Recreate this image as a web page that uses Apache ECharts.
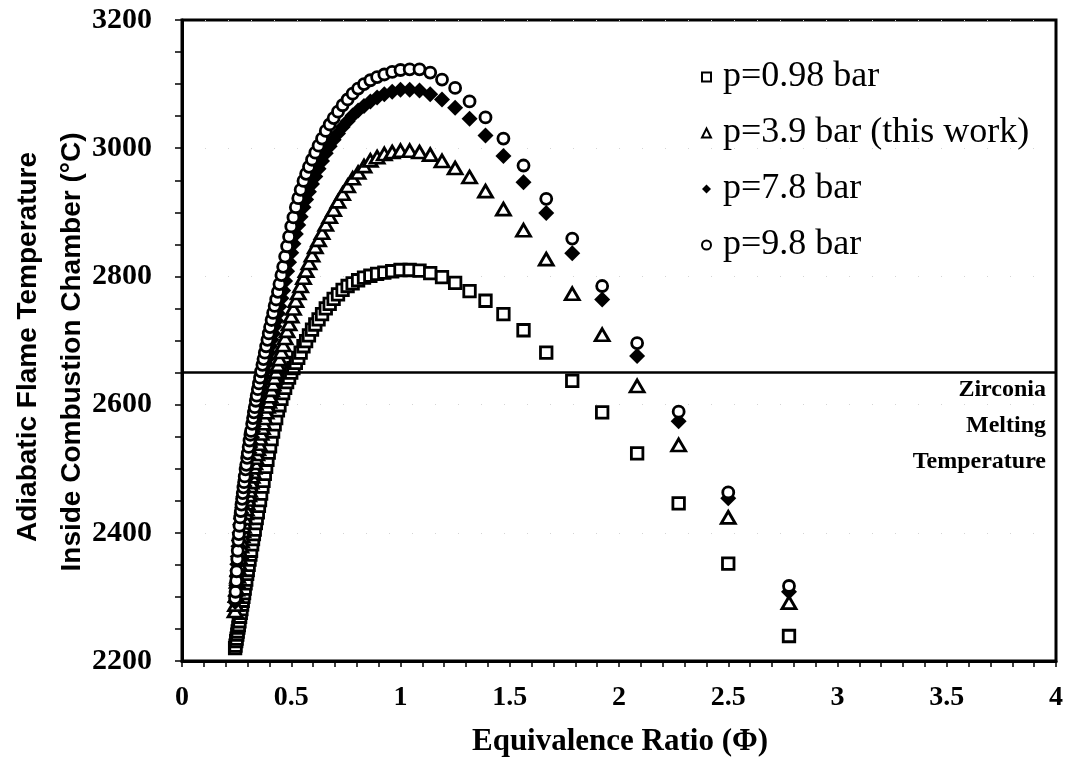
<!DOCTYPE html>
<html>
<head>
<meta charset="utf-8">
<script src="https://cdn.jsdelivr.net/npm/echarts@6/dist/echarts.min.js"></script>
<style>
  html, body { margin: 0; padding: 0; background: #fff; }
  #chart { width: 1068px; height: 768px; }
</style>
</head>
<body>
<div id="chart"></div>
<script>
// ---- Data ----
// Equivalence ratio Phi (shared by the four pressure series)
const phi = [
  0.243, 0.245, 0.248, 0.250, 0.253, 0.255, 0.258, 0.260, 0.263, 0.266,
  0.269, 0.272, 0.275, 0.278, 0.281, 0.284, 0.287, 0.291, 0.294, 0.298,
  0.301, 0.305, 0.309, 0.313, 0.316, 0.321, 0.325, 0.329, 0.333, 0.338,
  0.342, 0.347, 0.352, 0.357, 0.362, 0.368, 0.373, 0.379, 0.385, 0.391,
  0.397, 0.403, 0.410, 0.417, 0.424, 0.431, 0.439, 0.446, 0.455, 0.463,
  0.472, 0.481, 0.490, 0.500, 0.510, 0.521, 0.532, 0.543, 0.556, 0.568,
  0.581, 0.595, 0.610, 0.625, 0.641, 0.658, 0.676, 0.694, 0.714, 0.735,
  0.758, 0.781, 0.806, 0.833, 0.862, 0.893, 0.926, 0.962, 1.000, 1.042,
  1.087, 1.136, 1.190, 1.250, 1.316, 1.389, 1.471, 1.563, 1.667, 1.786,
  1.923, 2.083, 2.273, 2.500, 2.778
];
// Adiabatic flame temperature (deg C) for each chamber pressure
const tP098 = [
  2220, 2224, 2231, 2235, 2241, 2246, 2252, 2256, 2262, 2269,
  2275, 2281, 2288, 2294, 2300, 2306, 2313, 2321, 2327, 2336,
  2342, 2350, 2358, 2366, 2372, 2382, 2390, 2398, 2405, 2415,
  2423, 2432, 2442, 2451, 2461, 2472, 2481, 2492, 2503, 2514,
  2525, 2535, 2546, 2558, 2569, 2579, 2591, 2599, 2609, 2618,
  2626, 2635, 2642, 2650, 2657, 2665, 2673, 2681, 2691, 2699,
  2708, 2717, 2725, 2733, 2741, 2750, 2757, 2765, 2772, 2779,
  2785, 2789, 2794, 2798, 2801, 2804, 2806, 2808, 2810, 2810,
  2809, 2805, 2799, 2790, 2777, 2762, 2741, 2716, 2681, 2637,
  2588, 2524, 2446, 2352, 2239
];
const tP39 = [
  2278, 2288, 2302, 2312, 2324, 2332, 2344, 2352, 2361, 2370,
  2379, 2387, 2395, 2403, 2410, 2416, 2423, 2431, 2437, 2446,
  2452, 2459, 2466, 2473, 2479, 2488, 2495, 2502, 2509, 2517,
  2523, 2531, 2539, 2547, 2555, 2564, 2571, 2579, 2588, 2597,
  2605, 2613, 2623, 2632, 2642, 2651, 2662, 2671, 2682, 2693,
  2704, 2715, 2726, 2738, 2750, 2762, 2774, 2785, 2798, 2809,
  2821, 2833, 2846, 2857, 2868, 2881, 2893, 2904, 2917, 2929,
  2941, 2953, 2962, 2972, 2981, 2986, 2991, 2994, 2996, 2996,
  2994, 2990, 2980, 2969, 2955, 2933, 2905, 2872, 2827, 2773,
  2709, 2629, 2537, 2424, 2291
];
const tP78 = [
  2292, 2301, 2318, 2332, 2351, 2363, 2379, 2388, 2400, 2413,
  2422, 2431, 2440, 2448, 2457, 2464, 2473, 2483, 2489, 2500,
  2506, 2516, 2525, 2534, 2539, 2549, 2558, 2566, 2574, 2583,
  2591, 2600, 2609, 2617, 2627, 2636, 2644, 2653, 2663, 2672,
  2681, 2691, 2701, 2711, 2722, 2731, 2742, 2753, 2766, 2778,
  2793, 2808, 2822, 2837, 2851, 2866, 2880, 2893, 2908, 2920,
  2932, 2944, 2956, 2968, 2980, 2992, 3003, 3013, 3023, 3033,
  3042, 3051, 3059, 3066, 3073, 3079, 3084, 3088, 3091, 3091,
  3090, 3084, 3076, 3063, 3046, 3020, 2988, 2947, 2899, 2836,
  2764, 2676, 2574, 2454, 2308
];
const tP98 = [
  2298, 2308, 2325, 2340, 2359, 2372, 2388, 2398, 2411, 2424,
  2434, 2444, 2453, 2462, 2471, 2479, 2488, 2499, 2506, 2517,
  2524, 2534, 2544, 2553, 2559, 2570, 2579, 2588, 2596, 2606,
  2614, 2624, 2633, 2642, 2652, 2662, 2671, 2681, 2691, 2701,
  2711, 2721, 2732, 2743, 2754, 2764, 2776, 2788, 2802, 2815,
  2831, 2847, 2862, 2878, 2892, 2908, 2922, 2935, 2949, 2960,
  2971, 2982, 2993, 3004, 3015, 3027, 3037, 3047, 3057, 3067,
  3076, 3085, 3093, 3100, 3106, 3111, 3115, 3119, 3122, 3123,
  3123, 3118, 3107, 3094, 3073, 3048, 3015, 2973, 2921, 2859,
  2785, 2696, 2589, 2463, 2317
];
const seriesNames = ['p=0.98 bar', 'p=3.9 bar (this work)', 'p=7.8 bar', 'p=9.8 bar'];
const meltTemp = 2650;
const meltLabel = 'Zirconia\nMelting\nTemperature';
const xTitle = 'Equivalence Ratio (\u03A6)';
const yTitle1 = 'Adiabatic Flame Temperature';
const yTitle2 = 'Inside Combustion Chamber (\u00B0C)';
const xRange = [0, 4, 0.5];
const yRange = [2200, 3200, 200];

// ---- Chart ----
const chart = echarts.init(document.getElementById('chart'), null, { renderer: 'canvas' });
const pair = arr => phi.map((x, i) => [x, arr[i]]);
const serif = 'Liberation Serif, Times New Roman, serif';
const sans = 'Liberation Sans, Arial, sans-serif';
const hollow = { color: '#fff', borderColor: '#000', borderWidth: 2.8, opacity: 1 };

chart.setOption({
  animation: false,
  backgroundColor: '#fff',
  grid: { left: 182, right: 12, top: 20, bottom: 107, show: true, borderColor: '#000', borderWidth: 3, backgroundColor: 'transparent' },
  xAxis: {
    type: 'value', min: xRange[0], max: xRange[1], interval: xRange[2],
    axisLine: { show: true, onZero: false, lineStyle: { color: '#000', width: 3 } },
    axisTick: { show: true, length: 6, lineStyle: { color: '#000', width: 1.5 } },
    minorTick: { show: true, splitNumber: 5, length: 6, lineStyle: { color: '#000', width: 1.5 } },
    axisLabel: { fontFamily: serif, fontWeight: 'bold', fontSize: 28, color: '#000', margin: 23 },
    splitLine: { show: false }
  },
  yAxis: {
    type: 'value', min: yRange[0], max: yRange[1], interval: yRange[2],
    axisLine: { show: true, onZero: false, lineStyle: { color: '#000', width: 3 } },
    axisTick: { show: true, length: 7, lineStyle: { color: '#000', width: 1.5 } },
    minorTick: { show: true, splitNumber: 4, length: 7, lineStyle: { color: '#000', width: 1.5 } },
    axisLabel: { fontFamily: serif, fontWeight: 'bold', fontSize: 30, color: '#000', margin: 30, formatter: v => String(v) },
    splitLine: { show: true, lineStyle: { color: '#d4d4d4', width: 1, type: [1, 22] } }
  },
  legend: {
    orient: 'vertical', left: 696, top: 54,
    itemWidth: 9, itemHeight: 9, itemGap: 20,
    selectedMode: false,
    textStyle: { fontFamily: serif, fontSize: 36, color: '#000', lineHeight: 36, padding: [0, 0, 0, 7] },
    data: seriesNames
  },
  series: [
    {
      name: seriesNames[0], type: 'scatter', symbol: 'rect', symbolSize: 11.5,
      itemStyle: hollow, data: pair(tP098), z: 2,
      markLine: {
        silent: true, symbol: 'none', label: { show: false },
        lineStyle: { color: '#000', width: 2.5, type: 'solid' },
        data: [{ yAxis: meltTemp }]
      }
    },
    {
      name: seriesNames[1], type: 'scatter', symbol: 'triangle', symbolSize: [14, 12],
      itemStyle: hollow, data: pair(tP39), z: 3
    },
    {
      name: seriesNames[2], type: 'scatter', symbol: 'diamond', symbolSize: 16,
      itemStyle: { color: '#000', opacity: 1 }, data: pair(tP78), z: 4
    },
    {
      name: seriesNames[3], type: 'scatter', symbol: 'circle', symbolSize: 11,
      itemStyle: hollow, data: pair(tP98), z: 5
    }
  ],
  graphic: [
    {
      type: 'text', x: 28, y: 347, rotation: Math.PI / 2,
      style: { text: yTitle1, align: 'center', verticalAlign: 'middle', fontFamily: sans, fontWeight: 'bold', fontSize: 28, fill: '#000' }
    },
    {
      type: 'text', x: 72, y: 352, rotation: Math.PI / 2,
      style: { text: yTitle2, align: 'center', verticalAlign: 'middle', fontFamily: sans, fontWeight: 'bold', fontSize: 28, fill: '#000' }
    },
    {
      type: 'text', x: 620, y: 742,
      style: { text: xTitle, align: 'center', verticalAlign: 'middle', fontFamily: serif, fontWeight: 'bold', fontSize: 31, fill: '#000' }
    },
    {
      type: 'text', x: 1046, y: 426,
      style: { text: meltLabel, align: 'right', verticalAlign: 'middle', lineHeight: 36, fontFamily: serif, fontWeight: 'bold', fontSize: 24, fill: '#000' }
    }
  ]
});
</script>
</body>
</html>
